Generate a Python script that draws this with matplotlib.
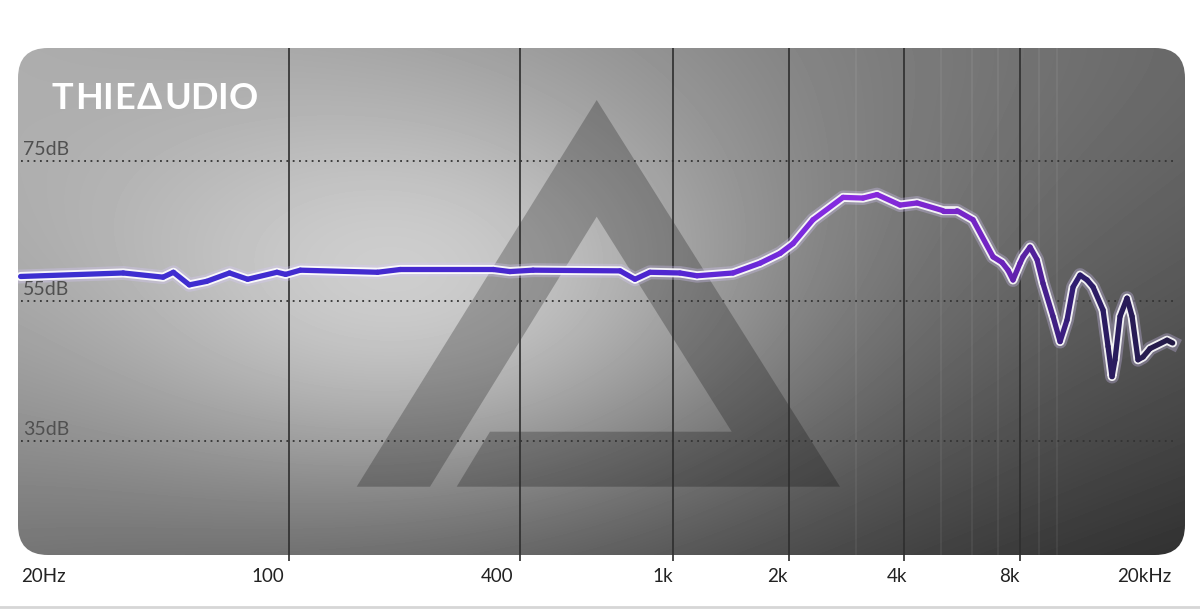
import numpy as np
import matplotlib.pyplot as plt
from matplotlib.collections import LineCollection
from matplotlib.colors import LinearSegmentedColormap
from matplotlib.patches import FancyBboxPatch, Polygon
from matplotlib.lines import Line2D
from matplotlib.transforms import blended_transform_factory, offset_copy

# frequency response
freq = [20, 37, 47, 50, 55, 61, 70, 78, 93, 98, 107, 170, 195, 340, 376, 432,
        728, 796, 871, 1042, 1155, 1433, 1685, 1900, 2054, 2315, 2772, 3124,
        3398, 3902, 4320, 5050, 5490, 6042, 6814, 7190, 7454, 7680, 8010, 8154,
        8505, 8872, 9194, 9761, 10184, 10620, 11010, 11482, 11972, 12410,
        13178, 13578, 13908, 14158, 14590, 15216, 15682, 16252, 16748, 17466,
        19340, 20000]
spl = [58.5, 59.0, 58.4, 59.1, 57.3, 57.8, 59.0, 58.1, 59.1, 58.8, 59.4, 59.1,
       59.5, 59.5, 59.2, 59.4, 59.3, 58.1, 59.1, 59.0, 58.6, 59.0, 60.4, 61.8,
       63.2, 66.6, 69.8, 69.7, 70.2, 68.7, 69.0, 67.9, 67.9, 66.6, 61.3, 60.5,
       59.4, 58.0, 60.4, 61.3, 62.7, 60.9, 57.5, 52.8, 49.2, 52.3, 57.0, 58.7,
       58.0, 57.0, 53.7, 48.5, 44.2, 46.6, 52.8, 55.4, 52.8, 46.6, 47.0, 48.2,
       49.4, 49.0]

tick_freqs = [20, 100, 400, 1000, 2000, 4000, 8000, 20000]
tick_labels = ["20Hz", "100", "400", "1k", "2k", "4k", "8k", "20kHz"]
major_lines = [100, 400, 1000, 2000, 4000, 8000]
minor_lines = [3000, 5000, 6000, 7000, 9000, 10000]
db_levels = [75, 55, 35]
db_labels = ["75dB", "55dB", "35dB"]

W, H = 1200, 610
px_l, px_t, px_r, px_b = 18, 48, 1185, 555
pw, ph = px_r - px_l, px_b - px_t
rect = [px_l / W, 1 - px_b / H, pw / W, ph / H]
fonts = ["Lato", "DejaVu Sans"]

fig = plt.figure(figsize=(12, 6.1), dpi=100)

# background panel (pixel coords)
bg = fig.add_axes(rect, zorder=0)
bg.set_xlim(0, pw)
bg.set_ylim(ph, 0)
bg.axis("off")
xx, yy = np.meshgrid(np.arange(pw), np.arange(ph))
val = (0.66 - 0.25 * xx / pw - 0.22 * (yy / ph) ** 1.5
       + 0.3 * np.exp(-((xx - 420) ** 2 / (2 * 250 ** 2) + (yy - 255) ** 2 / (2 * 150 ** 2))))
img = bg.imshow(val, cmap="gray", vmin=0, vmax=1, extent=[0, pw, ph, 0],
                aspect="auto", interpolation="bilinear")
panel = FancyBboxPatch((0, 0), pw, ph, boxstyle="round,pad=0,rounding_size=30",
                       facecolor="none", edgecolor="none")
bg.add_patch(panel)
img.set_clip_path(panel)

# big logo triangle
tri = Polygon([(578.7, 52), (822, 438.7), (438.7, 438.7), (472, 383.7),
               (713.7, 383.7), (578.7, 168.7), (412, 438.7), (338.7, 438.7)],
              closed=True, facecolor="black", alpha=0.24, edgecolor="none")
bg.add_patch(tri)

# logo text, letters spaced out by hand
logo = "THIEΔUDIO"
advance = {"T": 23.5, "H": 27, "I": 11.5, "E": 22.5, "Δ": 28, "U": 25.5, "D": 27, "O": 27}
lx = 34
for ch in logo:
    bg.text(lx, 61, ch, color="white", fontsize=26, fontweight="bold",
            family=fonts, va="baseline")
    lx += advance[ch]

# chart axes
ax = fig.add_axes(rect, zorder=1)
ax.set_xscale("log")
ax.set_xlim(19.69, 21540)
ax.set_ylim(18.71, 91.14)
ax.axis("off")

ax.vlines(minor_lines, 18.71, 91.14, colors="white", alpha=0.06, lw=1.5)
ax.vlines(major_lines, 17.86, 91.14, colors="#2e2e2e", lw=1.2, clip_on=False)
ax.hlines(db_levels, 20, 20000, colors="#333333", linestyles=(0, (1, 2.5)), lw=1.3)

for lvl, lab in zip(db_levels, db_labels):
    ax.text(20.3, lvl + 0.9, lab, fontsize=14, color="#505050", va="baseline",
            family=fonts)

# curve with white glow and colour gradient
ax.plot(freq, spl, color="#d8c8ff", lw=10, alpha=0.3, solid_joinstyle="round")
ax.plot(freq, spl, color="white", lw=6.5, alpha=0.9, solid_joinstyle="round",
        solid_capstyle="round")
pts = np.column_stack([freq, spl]).reshape(-1, 1, 2)
segs = np.concatenate([pts[:-1], pts[1:]], axis=1)
cmap = LinearSegmentedColormap.from_list(
    "thie", [(0, "#3b30d0"), (0.55, "#4b26cf"), (0.72, "#8a2be2"),
             (0.85, "#7024c0"), (0.92, "#2e1d6e"), (1, "#231a45")])
mid = np.log10(np.array(freq[:-1]) * np.array(freq[1:])) / 2
lc = LineCollection(segs, colors=cmap((mid - np.log10(20)) / 3), lw=3.8,
                    capstyle="round", joinstyle="round")
ax.add_collection(lc)

# frequency labels under the panel
label_dx = [0, -5, -7, 0, -1, 3, 0, -1]
trans = blended_transform_factory(ax.transData, ax.transAxes)
for f, lab, dx in zip(tick_freqs, tick_labels, label_dx):
    t = offset_copy(trans, fig=fig, x=dx, y=0, units="dots")
    ha = "left" if f == 20 else "right"
    ax.text(f if f != 20 else 20.1, -27 / ph, lab, transform=t, ha=ha, va="baseline",
            fontsize=13.5, color="#222222", family=fonts)

fig.add_artist(Line2D([0, 1], [1 - 607 / H] * 2, color="#d6d6d6", lw=2))

fig.savefig("out.png", dpi=100, facecolor="white")
